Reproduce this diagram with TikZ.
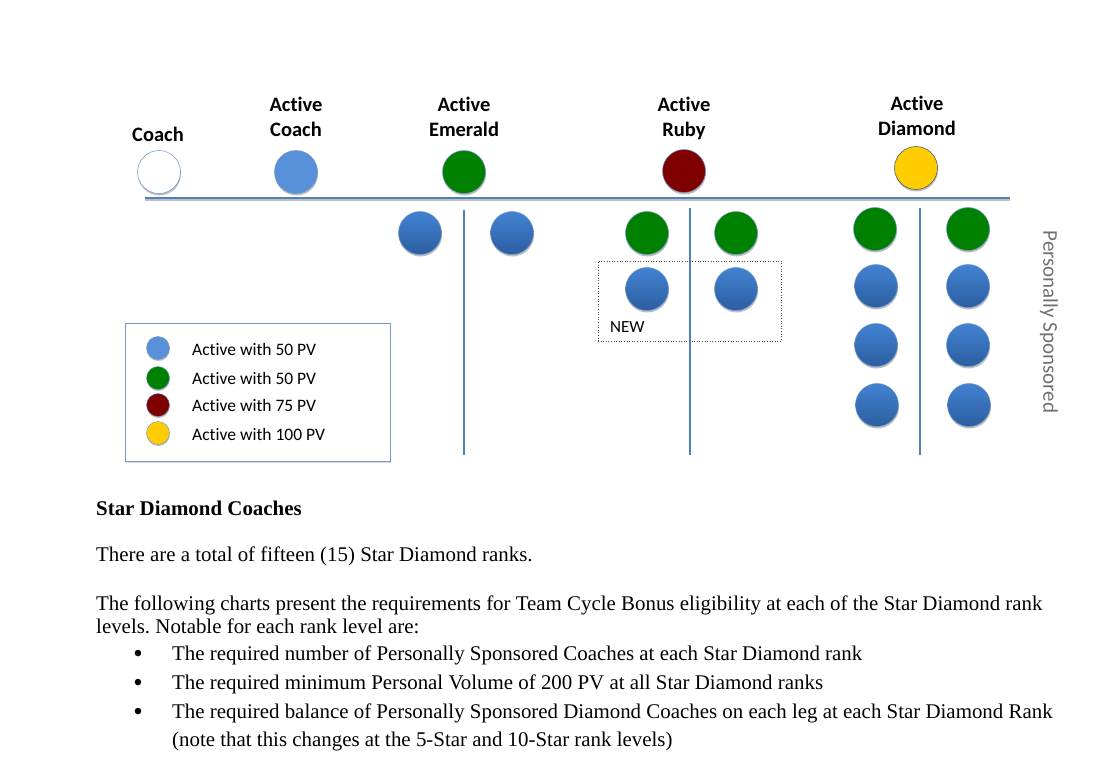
\documentclass[tikz,border=0pt]{standalone}
\usepackage{fontspec}
\setmainfont{Liberation Serif}
\newfontfamily\calfont[Ligatures=NoCommon]{Carlito}
\usetikzlibrary{shadows}
\definecolor{lineblue}{HTML}{4F81BD}
\definecolor{lightblue}{HTML}{5990DA}
\definecolor{emerald}{HTML}{008000}
\definecolor{ruby}{HTML}{7F0000}
\definecolor{gold}{HTML}{FFCC00}
\definecolor{bluetop}{HTML}{4282D2}
\definecolor{bluebot}{HTML}{2C5EA0}
\definecolor{sidegray}{HTML}{707070}
\tikzset{
  dot/.style={circle, minimum size=43pt, inner sep=0pt, draw=lineblue!85, line width=0.5pt,
    drop shadow={shadow xshift=0.5pt, shadow yshift=-2pt, opacity=0.25, fill=black}},
  bluedot/.style={dot, top color=bluetop, bottom color=bluebot},
  greendot/.style={dot, fill=emerald},
  ldot/.style={circle, minimum size=23pt, inner sep=0pt, draw=lineblue!85, line width=0.4pt,
    drop shadow={shadow xshift=0.3pt, shadow yshift=-1.5pt, opacity=0.25, fill=black}},
  ranklabel/.style={font=\calfont\bfseries\fontsize{20.5}{25}\selectfont, align=center, inner sep=0pt},
  legtext/.style={font=\calfont\fontsize{17.5}{20}\selectfont, anchor=west, inner sep=0pt},
  bar/.style={draw=lineblue, line width=2.6pt},
  vbar/.style={draw=lineblue, line width=2.4pt},
  body/.style={font=\frenchspacing\fontsize{20.9}{25}\selectfont, anchor=base west, inner sep=0pt},
  bulletmark/.style={font=\fontsize{27}{30}\selectfont, anchor=base, inner sep=0pt},
}
\begin{document}
\begin{tikzpicture}[x=1pt,y=-1pt]
\useasboundingbox (0,0) rectangle (1110,761);
% main bar
\coordinate (hl) at (145,198);
\coordinate (hr) at (1010,198);
\draw[line width=2.6pt, draw=black!25] ([yshift=-1.5pt]hl) -- ([yshift=-1.5pt]hr);
\draw[bar] (hl) -- (hr);
% vertical legs
\coordinate (e1) at (464,210); \coordinate (e2) at (464,455);
\coordinate (r1) at (690,208); \coordinate (r2) at (690,455);
\coordinate (d1) at (920,208); \coordinate (d2) at (920,455);
\draw[vbar] (e1) -- (e2);
\draw[vbar] (r1) -- (r2);
\draw[vbar] (d1) -- (d2);
% rank circles
\node[dot, fill=white, drop shadow={opacity=0}] (coach) at (159,172) {};
\node[dot, fill=lightblue] (acoach) at (296,172) {};
\node[dot, fill=emerald] (aemerald) at (464,172) {};
\node[dot, fill=ruby] (aruby) at (684,171) {};
\node[dot, fill=gold, draw=black!40!lineblue] (adiamond) at (916,168) {};
% rank labels
\node[ranklabel] (lcoach) at (158,134) {Coach};
\node[ranklabel] (lacoach) at (296,116.5) {Active\\Coach};
\node[ranklabel] (laemerald) at (464,116.5) {Active\\Emerald};
\node[ranklabel] (laruby) at (684,118.5) {Active\\Ruby};
\node[ranklabel] (ladiamond) at (917,115.5) {Active\\Diamond};
% emerald legs
\node[bluedot] (em1) at (420,233) {};
\node[bluedot] (em2) at (512,233) {};
% ruby legs
\node[greendot] (ru1) at (647,233) {};
\node[greendot] (ru2) at (736,233) {};
\node[draw=black!70, dotted, line width=0.6pt, minimum width=183pt, minimum height=80pt, inner sep=0pt] (newbox) at (689.5,301) {};
\node[bluedot] (ru3) at (647,289) {};
\node[bluedot] (ru4) at (736,289) {};
\node[font=\calfont\fontsize{17}{19}\selectfont, anchor=west, inner sep=0pt] (newlbl) at (610,327) {NEW};
% diamond legs
\node[greendot] (di1) at (875,229) {};
\node[greendot] (di2) at (968,229) {};
\node[bluedot] (di3) at (876,286) {};
\node[bluedot] (di4) at (968,286) {};
\node[bluedot] (di5) at (876,345) {};
\node[bluedot] (di6) at (968,345) {};
\node[bluedot] (di7) at (877,405) {};
\node[bluedot] (di8) at (969,405) {};
% side label
\node[font=\calfont\fontsize{21}{24}\selectfont, text=sidegray, rotate=-90, inner sep=0pt] (ps) at (1049,322) {Personally Sponsored};
% legend
\node[draw=lineblue!80, line width=0.8pt, minimum width=265pt, minimum height=138pt, inner sep=0pt,
  drop shadow={shadow xshift=1pt, shadow yshift=-1.5pt, opacity=0.15, fill=black}, fill=white] (legend) at (257.5,392) {};
\node[ldot, fill=lightblue] (lg1) at (158,348) {};
\node[ldot, fill=emerald] (lg2) at (158,378) {};
\node[ldot, fill=ruby] (lg3) at (158,405) {};
\node[ldot, fill=gold] (lg4) at (158,433) {};
\node[legtext] (lt1) at (192,349) {Active with 50 PV};
\node[legtext] (lt2) at (192,378) {Active with 50 PV};
\node[legtext] (lt3) at (192,405) {Active with 75 PV};
\node[legtext] (lt4) at (192,434) {Active with 100 PV};
% body text
\node[body, font=\bfseries\frenchspacing\fontsize{20.9}{25}\selectfont] (h1) at (96,515.5) {Star Diamond Coaches};
\node[body] (t1) at (96,561.5) {There are a total of fifteen (15) Star Diamond ranks.};
\node[body] (t2) at (96,610.5) {The following charts present the requirements for Team Cycle Bonus eligibility at each of the Star Diamond rank};
\node[body] (t3) at (96,633.5) {levels. Notable for each rank level are:};
\node[bulletmark] (b1) at (138,662) {•};
\node[bulletmark] (b2) at (138,691) {•};
\node[bulletmark] (b3) at (138,720) {•};
\node[body] (t4) at (172,660.5) {The required number of Personally Sponsored Coaches at each Star Diamond rank};
\node[body] (t5) at (172,689.5) {The required minimum Personal Volume of 200 PV at all Star Diamond ranks};
\node[body] (t6) at (172,718.5) {The required balance of Personally Sponsored Diamond Coaches on each leg at each Star Diamond Rank};
\node[body] (t7) at (172,746.5) {(note that this changes at the 5-Star and 10-Star rank levels)};
\end{tikzpicture}
\end{document}
